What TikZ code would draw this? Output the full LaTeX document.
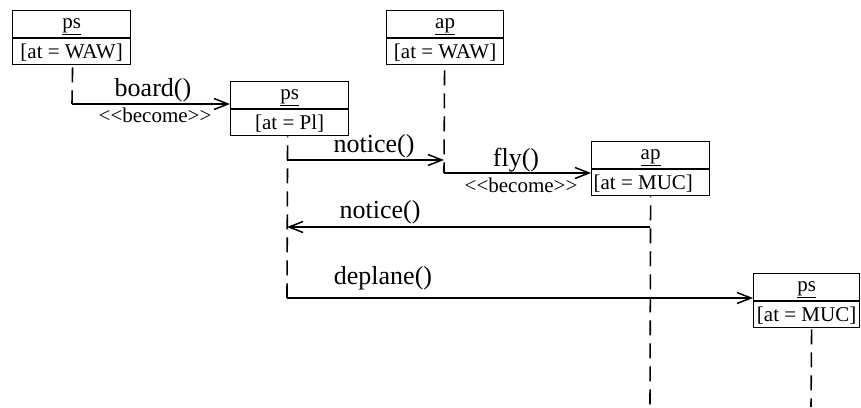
\documentclass[tikz,border=0pt]{standalone}
\usepackage{fontspec}
\setmainfont{Liberation Serif}
\usetikzlibrary{arrows.meta}
\newcommand{\becomeword}{<\kern0pt<become>\kern0pt>}
\begin{document}
\begin{tikzpicture}[x=1pt,y=-1pt,
  boxfont/.style={font=\fontsize{21}{25}\selectfont},
  topcomp/.style={draw, line width=1.2pt, inner sep=0pt, minimum height=27pt,
    text height=14pt, text depth=5pt, anchor=north west, boxfont},
  botcomp/.style={draw, line width=1.2pt, inner sep=0pt, minimum height=26pt,
    text height=17pt, text depth=3pt, anchor=north west, boxfont},
  life/.style={line width=1.6pt, dash pattern=on 15pt off 8pt},
  msg/.style={line width=1.5pt, -{Straight Barb[length=14pt,width=11pt]}},
  msglabel/.style={anchor=base, inner sep=0pt, font=\fontsize{26}{30}\selectfont},
  stereo/.style={anchor=base, inner sep=0pt, boxfont}
]
\useasboundingbox (0,0) rectangle (861,407);

% objects
\node[topcomp, minimum width=118pt] (ps1) at (12,10) {\underline{ps}};
\node[botcomp, minimum width=118pt] (ps1a) at (ps1.south west) {[at = WAW]};

\node[topcomp, minimum width=118pt] (ps2) at (230,81) {\underline{ps}};
\node[botcomp, minimum width=118pt] (ps2a) at (ps2.south west) {[at = Pl]};

\node[topcomp, minimum width=117pt] (ap1) at (386,10) {\underline{ap}};
\node[botcomp, minimum width=117pt] (ap1a) at (ap1.south west) {[at = WAW]};

\node[topcomp, minimum width=118pt] (ap2) at (591,141) {\underline{ap}};
\node[botcomp, minimum width=118pt] (ap2a) at (ap2.south west) {\makebox[114pt][l]{[at = MUC]}};

\node[topcomp, minimum width=106pt] (ps3) at (753,273) {\underline{ps}};
\node[botcomp, minimum width=106pt] (ps3a) at (ps3.south west) {[at = MUC]};

% lifeline end points
\coordinate (b1) at (72,104);
\coordinate (n1s) at (287,160);
\coordinate (f1) at (444,173);
\coordinate (n1e) at (f1 |- n1s);
\coordinate (n2s) at (650,227);
\coordinate (n2e) at (n1s |- n2s);
\coordinate (d1) at (287,298);
\coordinate (end4) at (650,407);
\coordinate (end5) at (811,407);

% lifelines
\draw[life, dash phase=21pt] ([xshift=1pt]ps1a.south) -- (b1);
\draw[life, dash phase=14pt] ([xshift=-2pt]ps2a.south) -- (d1);
\draw[life, dash phase=18pt] ([xshift=-0.5pt]ap1a.south) -- (f1);
\draw[life, dash phase=14pt] (ap2a.south) -- (end4);
\draw[life, dash phase=22pt] ([xshift=5pt]ps3a.south) -- (end5);

% messages
\draw[msg] (b1) -- (b1 -| ps2.west);
\draw[msg] (n1s) -- (n1e);
\draw[msg] (f1) -- (f1 -| ap2.west);
\draw[msg] (n2s) -- (n2e);
\draw[msg] (d1) -- (d1 -| ps3.west);

% labels
\node[msglabel] (lb1) at (153,96) {board()};
\node[stereo] (lb1s) at (155,122) {\becomeword};
\node[msglabel] (lb2) at (374,152) {notice()};
\node[msglabel] (lb3) at (516,166) {fly()};
\node[stereo] (lb3s) at (521,192) {\becomeword};
\node[msglabel] (lb4) at (380,218) {notice()};
\node[msglabel] (lb5) at (383,284) {deplane()};
\end{tikzpicture}
\end{document}
